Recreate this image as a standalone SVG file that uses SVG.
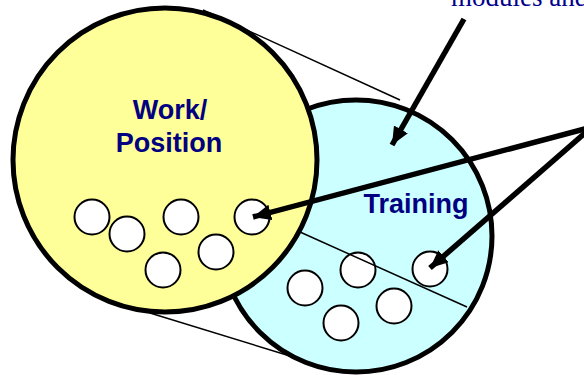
<svg xmlns="http://www.w3.org/2000/svg" width="584" height="375" viewBox="0 0 584 375">
<style>
.big{stroke:#000;stroke-width:5}
.dot{fill:#fff;stroke:#000;stroke-width:2}
.thin{stroke:#000;stroke-width:1.5;fill:none}
.arr{stroke:#000;stroke-width:5.5;fill:none;stroke-linejoin:miter}
.lbl{font-family:"Liberation Sans",Arial,sans-serif;font-weight:bold;font-size:27px;fill:#000080;text-anchor:middle}
.top{font-family:"Liberation Serif","Times New Roman",serif;font-size:27px;fill:#00008b}
</style>
<defs>
<marker id="ah" markerUnits="userSpaceOnUse" markerWidth="20" markerHeight="18" refX="18" refY="8" orient="auto">
<path d="M0,0 L18,8 L0,16 Z" fill="#000"/>
</marker>
</defs>
<rect width="584" height="375" fill="#fff"/>
<text class="top" x="451" y="5.5">modules and</text>
<g id="connectors-zoom">
<line class="thin" x1="203" y1="10" x2="400" y2="100"/>
<line class="thin" x1="150" y1="313" x2="290" y2="356"/>
</g>
<g id="training">
<circle class="big" cx="356" cy="236" r="136" fill="#ccffff"/>
<circle class="dot" cx="358" cy="270" r="17.5"/>
<circle class="dot" cx="430" cy="269" r="17.5"/>
<circle class="dot" cx="305" cy="288" r="17.5"/>
<circle class="dot" cx="394" cy="306" r="17.5"/>
<circle class="dot" cx="341" cy="323" r="17.5"/>
<line class="thin" x1="300" y1="232" x2="467" y2="307"/>
<text class="lbl" x="416" y="213">Training</text>
</g>
<g id="work">
<circle class="big" cx="165" cy="160" r="152" fill="#ffff99"/>
<circle class="dot" cx="92" cy="217" r="17.5"/>
<circle class="dot" cx="127" cy="234" r="17.5"/>
<circle class="dot" cx="181" cy="217" r="17.5"/>
<circle class="dot" cx="252" cy="217" r="17.5"/>
<circle class="dot" cx="216" cy="252" r="17.5"/>
<circle class="dot" cx="163" cy="270" r="17.5"/>
<text class="lbl" x="170" y="119">Work/</text>
<text class="lbl" x="169" y="152">Position</text>
</g>
<g id="connectors">
<line class="arr" x1="464" y1="19" x2="392" y2="145" marker-end="url(#ah)"/>
<line class="arr" x1="592" y1="127" x2="253" y2="217" marker-end="url(#ah)"/>
<line class="arr" x1="592" y1="127" x2="430" y2="268" marker-end="url(#ah)"/>
</g>
</svg>
